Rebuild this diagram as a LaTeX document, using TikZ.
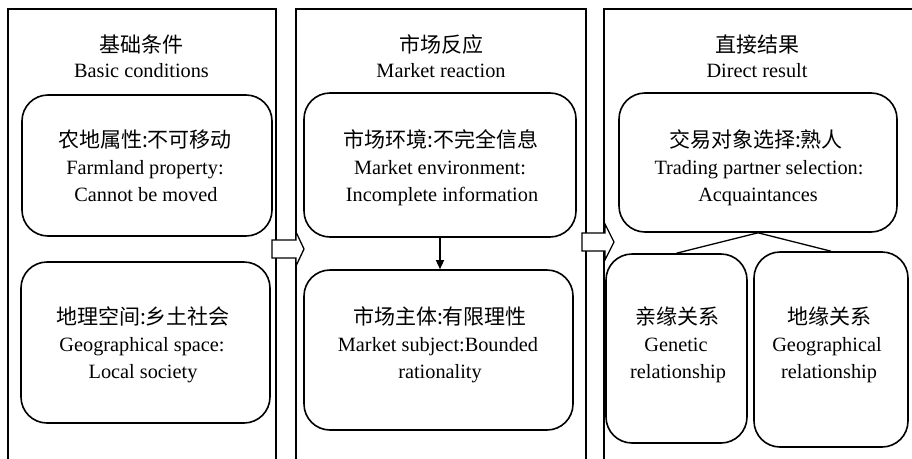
\documentclass[tikz,border=0pt]{standalone}
\usepackage{fontspec}
\setmainfont{Liberation Serif}
\newfontfamily\cjk{Noto Sans CJK SC}
\usetikzlibrary{arrows.meta}
\begin{document}
\begin{tikzpicture}[x=1pt,y=-1pt,
  panel/.style={draw,line width=1.3pt},
  rbox/.style={draw,rectangle,line width=1.6pt,rounded corners=26pt,inner sep=0pt},
  cn/.style={font=\cjk\fontsize{21}{21}\selectfont,anchor=base,inner sep=0pt},
  en/.style={font=\fontsize{20.3}{20.3}\selectfont,anchor=base,inner sep=0pt},
  barrow/.style={draw,fill=white,line width=1.3pt,line join=miter},
  conn/.style={draw,line width=1.3pt}]
\useasboundingbox (0,0) rectangle (912,458);
\clip (0,0) rectangle (912,458);
\fill[white] (0,0) rectangle (912,458);

% panels
\draw[panel] (8,470) -- (8,9) -- (276,9) -- (276,470);
\draw[panel] (296,470) -- (296,9) -- (586,9) -- (586,470);
\draw[panel] (604,470) -- (604,9) -- (920,9);

% headings
\node[cn] (h1c) at (141.5,52) {基础条件};
\node[en] (h1e) at (141.5,77) {Basic conditions};
\node[cn] (h2c) at (441,52) {市场反应};
\node[en] (h2e) at (441,77) {Market reaction};
\node[cn] (h3c) at (757,52) {直接结果};
\node[en] (h3e) at (757,77) {Direct result};

% boxes
\node[rbox,minimum width=250pt,minimum height=141pt] (a1) at (147,165.5) {};
\node[rbox,minimum width=249pt,minimum height=161pt] (a2) at (145.5,342.5) {};
\node[rbox,minimum width=272pt,minimum height=144pt] (b1) at (440,165) {};
\node[rbox,minimum width=269pt,minimum height=160pt] (b2) at (438.5,350) {};
\node[rbox,minimum width=278pt,minimum height=139pt] (c1) at (758,162.5) {};
\node[rbox,minimum width=141pt,minimum height=189pt] (c2) at (676.5,348.5) {};
\node[rbox,minimum width=154pt,minimum height=195pt] (c3) at (831,349.5) {};

% texts
\node[cn] (a1t1) at (145,147) {农地属性:不可移动};
\node[en] (a1t2) at (145,174) {Farmland property:};
\node[en] (a1t3) at (146,201) {Cannot be moved};

\node[cn] (a2t1) at (143,324) {地理空间:乡土社会};
\node[en] (a2t2) at (142,351) {Geographical space:};
\node[en] (a2t3) at (143,378) {Local society};

\node[cn] (b1t1) at (441,147) {市场环境:不完全信息};
\node[en] (b1t2) at (440,174) {Market environment:};
\node[en] (b1t3) at (442,201) {Incomplete information};

\node[cn] (b2t1) at (440,324) {市场主体:有限理性};
\node[en] (b2t2) at (438,351) {Market subject:Bounded};
\node[en] (b2t3) at (440,378) {rationality};

\node[cn] (c1t1) at (756,147) {交易对象选择:熟人};
\node[en] (c1t2) at (759,174) {Trading partner selection:};
\node[en] (c1t3) at (758,201) {Acquaintances};

\node[cn] (c2t1) at (677,324) {亲缘关系};
\node[en] (c2t2) at (676,351) {Genetic};
\node[en] (c2t3) at (678,378) {relationship};

\node[cn] (c3t1) at (829,324) {地缘关系};
\node[en] (c3t2) at (827,351) {Geographical};
\node[en] (c3t3) at (829,378) {relationship};

% connectors
\draw[conn,-{Triangle[length=9pt,width=8pt]}] (b1.south) -- (b1.south |- b2.north);
\draw[conn] (c1.south) -- (c2.north);
\draw[conn] (c1.south) -- (c3.north);

% block arrows
\draw[barrow] (272,240) -- (296,240) -- (296,232) -- (304,249) -- (296,266) -- (296,258) -- (272,258) -- cycle;
\draw[barrow] (582,233) -- (605,233) -- (605,224) -- (614,242) -- (605,260) -- (605,251) -- (582,251) -- cycle;
\end{tikzpicture}
\end{document}
